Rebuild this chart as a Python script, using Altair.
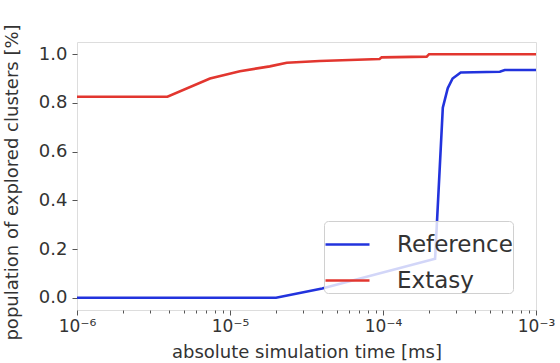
import altair as alt
import pandas as pd

# ---- data ----
series_names = ["Reference", "Extasy"]
series_colors = ["#2233dd", "#e2362f"]

ref_time = [1e-6, 2.0e-5, 4.0e-5, 2.19e-4, 2.46e-4, 2.65e-4, 2.85e-4, 3.22e-4, 5.8e-4, 6.25e-4, 1e-3]
ref_value = [0.0, 0.0, 0.038, 0.16, 0.78, 0.86, 0.90, 0.925, 0.928, 0.935, 0.935]

ext_time = [1e-6, 3.9e-6, 7.4e-6, 1.16e-5, 1.82e-5, 2.35e-5, 3.85e-5, 9.5e-5, 9.8e-5, 1.93e-4, 2.0e-4, 1e-3]
ext_value = [0.825, 0.825, 0.90, 0.93, 0.95, 0.965, 0.972, 0.98, 0.987, 0.99, 1.0, 1.0]

x_tick_values = [1e-6, 1e-5, 1e-4, 1e-3]
x_tick_labels = ["10⁻⁶", "10⁻⁵", "10⁻⁴", "10⁻³"]
x_minor_values = [m * 10.0 ** e for e in (-6, -5, -4) for m in range(2, 10)]
y_tick_values = [0.0, 0.2, 0.4, 0.6, 0.8, 1.0]

rows = []
for i, (t, v) in enumerate(zip(ref_time, ref_value)):
    rows.append({"series": "Reference", "t": t, "v": v, "o": i})
for i, (t, v) in enumerate(zip(ext_time, ext_value)):
    rows.append({"series": "Extasy", "t": t, "v": v, "o": i})
df = pd.DataFrame(rows)

major_test = " || ".join(f"abs(datum.value - {v}) < {v * 1e-3}" for v in x_tick_values)
label_expr = " : ".join(
    f"abs(datum.value - {v}) < {v * 1e-3} ? '{l}'" for v, l in zip(x_tick_values, x_tick_labels)
) + " : ''"

FONT = "DejaVu Sans"
TXT = "#333333"

x_scale = alt.Scale(type="log", domain=[1e-6, 1e-3], nice=False)
y_scale = alt.Scale(domain=[-0.05, 1.05], nice=False, zero=False)
color_scale = alt.Scale(domain=series_names, range=series_colors)

x_axis = alt.Axis(
    values=sorted(x_tick_values + x_minor_values), labelExpr=label_expr,
    labelOverlap=False, grid=False, domain=False,
    tickColor="#555555", tickWidth=1,
    tickSize={"condition": {"test": major_test, "value": 5}, "value": 3},
    labelFontSize=17, labelFont=FONT, labelColor=TXT,
    labelPadding=3, labelFlush=False,
    title="absolute simulation time [ms]", titleFontSize=18, titleFont=FONT,
    titleColor=TXT, titleFontWeight="normal", titlePadding=9,
)

y_axis = alt.Axis(
    values=y_tick_values, format=".1f", grid=False, domain=False,
    tickColor="#555555", tickWidth=1, tickSize=5,
    labelFontSize=18, labelColor=TXT, labelFont=FONT, labelPadding=5,
    title="population of explored clusters [%]", titleFontSize=18, titleFont=FONT,
    titleColor=TXT, titleFontWeight="normal", titleX=-65, titleY=140,
    titleAngle=-90, titleAlign="center", titleBaseline="middle",
)

legend = alt.Legend(
    title=None, orient="none", legendX=247, legendY=179,
    symbolType="stroke", symbolSize=1936, symbolStrokeWidth=2.6,
    labelFontSize=23, labelFont=FONT, labelColor=TXT, labelOffset=26,
    labelExpr="datum.label + '\u00a0\u00a0\u00a0\u00a0'",
    padding=0, rowPadding=-14,
    fillColor="rgba(255,255,255,0.8)", strokeColor="#d0d0d0", cornerRadius=4,
)

chart = alt.Chart(df).mark_line(strokeWidth=2.6).encode(
    x=alt.X("t:Q", scale=x_scale, axis=x_axis),
    y=alt.Y("v:Q", scale=y_scale, axis=y_axis),
    color=alt.Color("series:N", scale=color_scale, legend=legend),
    order="o:Q",
).properties(
    width=459, height=268,
    padding={"left": 77, "top": 42, "right": 24, "bottom": 53},
    autosize=alt.AutoSizeParams(type="none"),
).configure_view(stroke="#7a7a7a", strokeWidth=1.3).configure(background="white")

chart.save("out.html", embed_options={"renderer": "svg", "actions": False})
